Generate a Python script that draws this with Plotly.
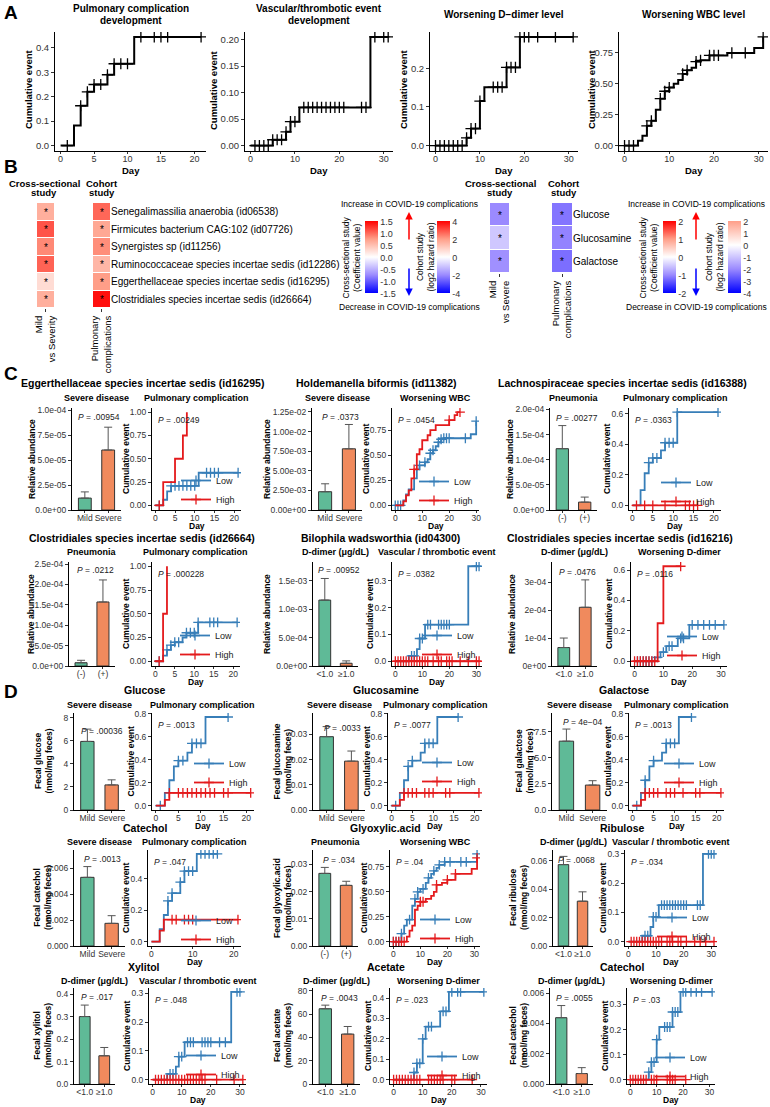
import plotly.graph_objects as go

W, H = 770, 1107
FONT = "Liberation Sans, Arial, Helvetica, sans-serif"
LOW_C = "#377EB8"
HIGH_C = "#E41A1C"
GREEN = "#5FBA97"
ORANGE = "#F08A5D"

# ======================= Panel A data =======================
A1_title = "Pulmonary complication<br>development"
A1_ev_t = [2, 3, 4, 5, 7, 8, 11]
A1_ev_v = [0.082, 0.163, 0.22, 0.25, 0.29, 0.335, 0.445]
A1_cens = [1, 3, 4, 5, 6, 7, 8, 9, 10, 12, 14, 15, 16, 21]
A1_end = 21

A2_title = "Vascular/thrombotic event<br>development"
A2_ev_t = [5, 8, 9, 11, 27]
A2_ev_v = [0.011, 0.026, 0.045, 0.072, 0.205]
A2_cens = [1, 2, 3, 4, 5, 6, 7, 8, 9, 10, 12, 13, 14, 15, 16, 17, 18, 19, 20, 21, 25, 26, 28, 30, 31]
A2_end = 31

A3_title = "Worsening D−dimer level"
A3_ev_t = [7, 8, 10, 11, 16, 19]
A3_ev_v = [0.02, 0.044, 0.115, 0.151, 0.202, 0.281]
A3_cens = [0, 1, 2, 3, 4, 5, 6, 7, 8, 9, 10, 13, 14, 15, 16, 17, 18, 19, 20, 21, 23, 27, 31]
A3_end = 31

A4_title = "Worsening WBC level"
A4_ev_t = [3, 4, 5, 6, 7, 8, 9, 10, 11, 12, 13, 14, 15, 16, 17, 19, 23, 29, 31]
A4_ev_v = [0.04, 0.08, 0.16, 0.20, 0.29, 0.38, 0.44, 0.47, 0.50, 0.53, 0.58, 0.61, 0.63, 0.68, 0.69, 0.73, 0.75, 0.79, 0.88]
A4_cens = [0, 1, 2, 5, 6, 8, 9, 10, 13, 14, 16, 17, 19, 20, 21, 24, 27, 31]
A4_end = 31

# ======================= Panel B data =======================
B_species = ["Senegalimassilia anaerobia (id06538)", "Firmicutes bacterium CAG:102 (id07726)",
             "Synergistes sp (id11256)", "Ruminococcaceae species incertae sedis (id12286)",
             "Eggerthellaceae species incertae sedis (id16295)", "Clostridiales species incertae sedis (id26664)"]
B_species_cross = [0.62, 1.10, 0.85, 1.03, 0.27, 0.62]
B_species_cohort = [2.7, 1.8, 2.2, 1.5, 2.0, 3.8]
B_metab = ["Glucose", "Glucosamine", "Galactose"]
B_metab_cross = [-1.0, -0.48, -0.95]
B_metab_cohort = [-2.3, -2.1, -2.4]
B_sig = "*"
B_left_cols = ["Mild<br>vs Severity", "Pulmonary<br>complications"]
B_right_cols = ["Mild<br>vs Severe", "Pulmonary<br>complications"]
B_cb1_ticks = [1.5, 1.0, 0.5, 0.0, -0.5, -1.0, -1.5]
B_cb1_text = ["1.5", "1.0", "0.5", "0.0", "-0.5", "-1.0", "-1.5"]
B_cb2_ticks = [4, 2, 0, -2, -4]
B_cb2_text = ["4", "2", "0", "-2", "-4"]
B_cb3_ticks = [2, 1, 0, -1, -2]
B_cb3_text = ["2", "1", "0", "-1", "-2"]
B_cb4_ticks = [2, 1, 0, -1, -2, -3, -4]
B_cb4_text = ["2", "1", "0", "-1", "-2", "-3", "-4"]

# ======================= Panel C data =======================
C1_title = "Eggerthellaceae species incertae sedis (id16295)"
C1_subs = ["Severe disease", "Pulmonary complication"]
C1_groups = ["Mild", "Severe"]
C1_mean = [1.19e-5, 6.0e-5]
C1_sem = [0.62e-5, 2.28e-5]
C1_yticks = [0, 2.5e-5, 5.0e-5, 7.5e-5, 1.0e-4]
C1_yticktext = ["0.0e+00", "2.5e-05", "5.0e-05", "7.5e-05", "1.0e-04"]
C1_p = [".00954", ".00249"]
C1_low_t = [2, 3, 4, 11]
C1_low_v = [0.06, 0.15, 0.21, 0.35]
C1_low_c = [1, 4, 5, 6, 7, 8, 9, 10, 13, 14, 15, 16, 21]
C1_low_end = 21
C1_high_t = [2, 5, 7, 8]
C1_high_v = [0.25, 0.50, 0.75, 1.00]
C1_high_c = [1]
C1_high_end = 8

C2_title = "Holdemanella biformis (id11382)"
C2_subs = ["Severe disease", "Worsening WBC"]
C2_groups = ["Mild", "Severe"]
C2_mean = [2.33e-3, 7.8e-3]
C2_sem = [1.01e-3, 3.1e-3]
C2_yticks = [0, 2.5e-3, 5.0e-3, 7.5e-3, 1.0e-2, 1.25e-2]
C2_yticktext = ["0.00e+00", "2.50e-03", "5.00e-03", "7.50e-03", "1.00e-02", "1.25e-02"]
C2_p = [".0373", ".0454"]
C2_low_t = [3, 4, 5, 7, 8, 9, 11, 12, 13, 14, 15, 16, 17, 18, 28, 30]
C2_low_v = [0.05, 0.11, 0.16, 0.27, 0.36, 0.40, 0.43, 0.46, 0.52, 0.55, 0.59, 0.63, 0.66, 0.67, 0.71, 0.84]
C2_low_c = [0, 1, 2, 9, 11, 13, 14, 16, 17, 18, 19, 20, 26, 30]
C2_low_end = 30
C2_high_t = [3, 4, 5, 6, 7, 8, 9, 10, 12, 13, 15, 20, 22, 23]
C2_high_v = [0.04, 0.10, 0.15, 0.27, 0.36, 0.51, 0.56, 0.65, 0.70, 0.75, 0.80, 0.85, 0.90, 0.93]
C2_high_c = [7, 20, 24]
C2_high_end = 24

C3_title = "Lachnospiraceae species incertae sedis (id16388)"
C3_subs = ["Pneumonia", "Pulmonary complication"]
C3_groups = ["(-)", "(+)"]
C3_mean = [1.22e-4, 1.57e-5]
C3_sem = [4.6e-5, 1.0e-5]
C3_yticks = [0, 5e-5, 1e-4, 1.5e-4, 2e-4]
C3_yticktext = ["0.0e+00", "5.0e-05", "1.0e-04", "1.5e-04", "2.0e-04"]
C3_p = [".00277", ".0363"]
C3_low_t = [2, 3, 4, 5, 7, 8, 11]
C3_low_v = [0.10, 0.21, 0.28, 0.31, 0.36, 0.41, 0.61]
C3_low_c = [4, 5, 6, 8, 9, 10, 11, 21]
C3_low_end = 21
C3_high_t = []
C3_high_v = []
C3_high_c = [1, 3, 5, 8, 13, 14, 15, 16]
C3_high_end = 16

C4_title = "Clostridiales species incertae sedis (id26664)"
C4_subs = ["Pneumonia", "Pulmonary complication"]
C4_groups = ["(-)", "(+)"]
C4_mean = [8e-6, 1.57e-4]
C4_sem = [6e-6, 5.4e-5]
C4_yticks = [0, 5e-5, 1e-4, 1.5e-4, 2e-4, 2.5e-4]
C4_yticktext = ["0.0e+00", "5.0e-05", "1.0e-04", "1.5e-04", "2.0e-04", "2.5e-04"]
C4_p = [".0212", ".000228"]
C4_low_t = [2, 3, 4, 5, 7, 8, 11]
C4_low_v = [0.06, 0.12, 0.17, 0.20, 0.25, 0.30, 0.41]
C4_low_c = [1, 3, 4, 5, 6, 8, 9, 10, 11, 14, 15, 16, 21]
C4_low_end = 21
C4_high_t = [2, 3]
C4_high_v = [0.5, 1.0]
C4_high_c = [1]
C4_high_end = 3

C5_title = "Bilophila wadsworthia (id04300)"
C5_subs = ["D-dimer (μg/dL)", "Vascular / thrombotic event"]
C5_groups = ["<1.0", "≥1.0"]
C5_mean = [1.16e-3, 4.8e-5]
C5_sem = [3.8e-4, 4.2e-5]
C5_yticks = [0, 5e-4, 1e-3, 1.5e-3]
C5_yticktext = ["0.0e+00", "5.0e-04", "1.0e-03", "1.5e-03"]
C5_p = [".00952", ".0382"]
C5_low_t = [5, 8, 9, 11, 27]
C5_low_v = [0.02, 0.045, 0.085, 0.137, 0.355]
C5_low_c = [6, 7, 9, 10, 12, 13, 16, 17, 18, 19, 20, 30, 31]
C5_low_end = 31
C5_high_t = []
C5_high_v = []
C5_high_c = [0, 1, 2, 3, 4, 5, 6, 7, 8, 9, 10, 11, 12, 14, 16, 17, 19, 20, 21, 24, 27, 30, 31]
C5_high_end = 31

C6_title = "Clostridiales species incertae sedis (id16216)"
C6_subs = ["D-dimer (μg/dL)", "Worsening D-dimer"]
C6_groups = ["<1.0", "≥1.0"]
C6_mean = [6.6e-5, 2.1e-4]
C6_sem = [3.4e-5, 9.8e-5]
C6_yticks = [0, 1e-4, 2e-4, 3e-4]
C6_yticktext = ["0e+00", "1e-04", "2e-04", "3e-04"]
C6_p = [".0476", ".0116"]
C6_low_t = [7, 9, 11, 15, 19]
C6_low_v = [0.025, 0.06, 0.10, 0.15, 0.24]
C6_low_c = [1, 2, 3, 4, 5, 6, 8, 10, 12, 13, 16, 17, 20, 22, 24, 26, 28, 31]
C6_low_end = 31
C6_high_t = [8, 10]
C6_high_v = [0.25, 0.625]
C6_high_c = [0, 1, 2, 3, 4, 5, 6, 7, 16]
C6_high_end = 16

# ======================= Panel D data =======================
D1_title = "Glucose"
D1_subs = ["Severe disease", "Pulmonary complication"]
D1_groups = ["Mild", "Severe"]
D1_mean = [5.96, 2.18]
D1_sem = [1.07, 0.44]
D1_yticks = [0, 2, 4, 6, 8]
D1_yticktext = ["0", "2", "4", "6", "8"]
D1_ylabel = "Fecal glucose<br>(nmol/mg feces)"
D1_p = [".00036", ".0013"]
D1_low_t = [2, 3, 4, 5, 7, 8, 11]
D1_low_v = [0.11, 0.22, 0.34, 0.39, 0.46, 0.54, 0.77]
D1_low_c = [1, 5, 6, 8, 9, 10, 16]
D1_low_end = 16
D1_high_t = [2, 3]
D1_high_v = [0.05, 0.11]
D1_high_c = [3, 5, 6, 7, 8, 9, 10, 11, 12, 13, 15, 16, 21]
D1_high_end = 21

D2_title = "Glucosamine"
D2_subs = ["Severe disease", "Pulmonary complication"]
D2_groups = ["Mild", "Severe"]
D2_mean = [0.0291, 0.0194]
D2_sem = [0.0040, 0.0040]
D2_yticks = [0, 0.01, 0.02, 0.03]
D2_yticktext = ["0.00", "0.01", "0.02", "0.03"]
D2_ylabel = "Fecal glucosamine<br>(nmol/mg feces)"
D2_p = [".0033", ".0077"]
D2_low_t = [2, 3, 4, 5, 7, 8, 11]
D2_low_v = [0.11, 0.22, 0.34, 0.39, 0.46, 0.54, 0.77]
D2_low_c = [1, 4, 5, 8, 9, 10, 16]
D2_low_end = 16
D2_high_t = [2, 3]
D2_high_v = [0.05, 0.11]
D2_high_c = [3, 4, 5, 6, 8, 9, 10, 13, 14, 21]
D2_high_end = 21

D3_title = "Galactose"
D3_subs = ["Severe disease", "Pulmonary complication"]
D3_groups = ["Mild", "Severe"]
D3_mean = [6.6, 2.39]
D3_sem = [1.16, 0.42]
D3_yticks = [0, 2.5, 5.0, 7.5]
D3_yticktext = ["0.0", "2.5", "5.0", "7.5"]
D3_ylabel = "Fecal galactose<br>(nmol/mg feces)"
D3_p = ["4e−04", ".0013"]
D3_low_t = [2, 3, 4, 5, 7, 8, 11]
D3_low_v = [0.11, 0.22, 0.34, 0.39, 0.46, 0.54, 0.77]
D3_low_c = [1, 3, 5, 8, 9, 10, 14]
D3_low_end = 14
D3_high_t = [2, 3]
D3_high_v = [0.05, 0.11]
D3_high_c = [3, 4, 5, 6, 8, 9, 10, 12, 15, 16, 21]
D3_high_end = 21

D4_title = "Catechol"
D4_subs = ["Severe disease", "Pulmonary complication"]
D4_groups = ["Mild", "Severe"]
D4_mean = [0.0053, 0.00175]
D4_sem = [0.00083, 0.00059]
D4_yticks = [0, 0.002, 0.004, 0.006]
D4_yticktext = ["0.000", "0.002", "0.004", "0.006"]
D4_ylabel = "Fecal catechol<br>(nmol/mg feces)"
D4_p = [".0013", ".047"]
D4_low_t = [2, 3, 4, 5, 7, 8, 11]
D4_low_v = [0.08, 0.17, 0.26, 0.31, 0.38, 0.45, 0.56]
D4_low_c = [4, 5, 7, 8, 9, 10, 12, 13, 14, 15, 16]
D4_low_end = 16
D4_high_t = [2, 3]
D4_high_v = [0.07, 0.14]
D4_high_c = [5, 6, 8, 9, 10, 21]
D4_high_end = 21

D5_title = "Glyoxylic.acid"
D5_subs = ["Pneumonia", "Worsening WBC"]
D5_groups = ["(-)", "(+)"]
D5_mean = [0.0267, 0.0223]
D5_sem = [0.0022, 0.0015]
D5_yticks = [0, 0.01, 0.02, 0.03]
D5_yticktext = ["0.00", "0.01", "0.02", "0.03"]
D5_ylabel = "Fecal glyoxylic.acid<br>(nmol/mg feces)"
D5_p = [".034", ".04"]
D5_low_t = [3, 4, 5, 7, 8, 9, 10, 12, 13, 14, 15, 16, 17, 19, 31]
D5_low_v = [0.08, 0.16, 0.22, 0.36, 0.43, 0.50, 0.53, 0.59, 0.64, 0.68, 0.71, 0.74, 0.77, 0.80, 0.88]
D5_low_c = [0, 1, 2, 3, 6, 8, 9, 11, 13, 15, 17, 19, 21, 25, 27, 31]
D5_low_end = 31
D5_high_t = [5, 6, 7, 8, 9, 10, 12, 14, 15, 16, 18, 20, 23, 29, 31]
D5_high_v = [0.05, 0.11, 0.16, 0.32, 0.36, 0.40, 0.43, 0.46, 0.50, 0.57, 0.59, 0.62, 0.68, 0.73, 0.84]
D5_high_c = [0, 1, 2, 3, 4, 10, 11, 16, 20, 23, 31]
D5_high_end = 31

D6_title = "Ribulose"
D6_subs = ["D-dimer (μg/dL)", "Vascular / thrombotic event"]
D6_groups = ["<1.0", "≥1.0"]
D6_mean = [0.0574, 0.0316]
D6_sem = [0.0058, 0.0066]
D6_yticks = [0, 0.02, 0.04, 0.06]
D6_yticktext = ["0.00", "0.02", "0.04", "0.06"]
D6_ylabel = "Fecal ribulose<br>(nmol/mg feces)"
D6_p = [".0068", ".034"]
D6_low_t = [5, 8, 9, 11, 27]
D6_low_v = [0.02, 0.05, 0.085, 0.125, 0.30]
D6_low_c = [6, 7, 9, 10, 12, 13, 14, 15, 16, 17, 18, 19, 20, 21, 25, 26, 29, 30, 31]
D6_low_end = 31
D6_high_t = []
D6_high_v = []
D6_high_c = [1, 2, 3, 4, 5, 6, 7, 8, 9, 10, 11, 12, 14, 15, 16, 18, 19, 21, 24, 26, 28, 31]
D6_high_end = 31

D7_title = "Xylitol"
D7_subs = ["D-dimer (μg/dL)", "Vascular / thrombotic event"]
D7_groups = ["<1.0", "≥1.0"]
D7_mean = [0.30, 0.1255]
D7_sem = [0.051, 0.037]
D7_yticks = [0, 0.1, 0.2, 0.3, 0.4]
D7_yticktext = ["0.0", "0.1", "0.2", "0.3", "0.4"]
D7_ylabel = "Fecal xylitol<br>(nmol/mg feces)"
D7_p = [".017", ".048"]
D7_low_t = [5, 8, 9, 11, 27]
D7_low_v = [0.02, 0.045, 0.08, 0.13, 0.305]
D7_low_c = [6, 7, 9, 10, 12, 13, 14, 17, 18, 19, 20, 23, 25, 29, 30]
D7_low_end = 30
D7_high_t = []
D7_high_v = []
D7_high_c = [1, 2, 3, 4, 5, 6, 7, 8, 9, 10, 11, 12, 13, 14, 15, 16, 17, 18, 22, 28, 31]
D7_high_end = 31

D8_title = "Acetate"
D8_subs = ["D-dimer (μg/dL)", "Worsening D-dimer"]
D8_groups = ["<1.0", "≥1.0"]
D8_mean = [64.5, 42.8]
D8_sem = [3.1, 6.5]
D8_yticks = [0, 20, 40, 60, 80]
D8_yticktext = ["0", "20", "40", "60", "80"]
D8_ylabel = "Fecal acetate<br>(nmol/mg feces)"
D8_p = [".0043", ".023"]
D8_low_t = [7, 8, 10, 11, 16, 19]
D8_low_v = [0.035, 0.08, 0.20, 0.26, 0.335, 0.43]
D8_low_c = [7, 8, 9, 10, 12, 13, 17, 18, 20, 22, 23, 31]
D8_low_end = 31
D8_high_t = []
D8_high_v = []
D8_high_c = [0, 1, 2, 3, 4, 5, 6, 7, 8, 9, 12, 13, 14, 15, 16, 17, 20, 21, 27]
D8_high_end = 27

D9_title = "Catechol"
D9_subs = ["D-dimer (μg/dL)", "Worsening D-dimer"]
D9_groups = ["<1.0", "≥1.0"]
D9_mean = [0.00438, 0.00069]
D9_sem = [0.0008, 0.00039]
D9_yticks = [0, 0.002, 0.004, 0.006]
D9_yticktext = ["0.000", "0.002", "0.004", "0.006"]
D9_ylabel = "Fecal catechol<br>(nmol/mg feces)"
D9_p = [".0055", ".03"]
D9_low_t = [7, 8, 10, 11, 16, 19]
D9_low_v = [0.03, 0.07, 0.16, 0.21, 0.27, 0.35]
D9_low_c = [7, 8, 9, 10, 13, 14, 15, 16, 17, 18, 20, 21, 23, 25, 27, 31]
D9_low_end = 31
D9_high_t = []
D9_high_v = []
D9_high_c = [0, 1, 2, 3, 4, 5, 6, 8, 9, 10, 14, 15, 16, 17, 21]
D9_high_end = 21

# ======================= helpers =======================
fig = go.Figure()
L = {}
anns = []
naxes = [0]
nleg = [1]


def X(px):
    return px / W


def Y(py):
    return 1 - py / H


def text(s, x, y, size, bold=False, xanchor="center", yanchor="middle", color="black", angle=0):
    if bold:
        s = "<b>" + s + "</b>"
    anns.append(dict(text=s, x=X(x), y=Y(y), xref="paper", yref="paper", showarrow=False,
                     xanchor=xanchor, yanchor=yanchor, textangle=angle,
                     font=dict(size=size, color=color, family=FONT)))


def new_axes(box):
    naxes[0] += 1
    n = naxes[0]
    s = "" if n == 1 else str(n)
    x0, y0, x1, y1 = box
    L["xaxis" + s] = dict(domain=[X(x0), X(x1)], anchor="y" + s, automargin=False)
    L["yaxis" + s] = dict(domain=[Y(y1), Y(y0)], anchor="x" + s, automargin=False)
    return s


def style(d, size, tl=3, so=0):
    d.update(showline=True, linecolor="black", linewidth=1, ticks="outside", ticklen=tl,
             tickwidth=1, tickcolor="#333", showgrid=False, zeroline=False, tickangle=0,
             ticklabelstandoff=so, tickfont=dict(size=size, color="#333", family=FONT))


def km_points(ev_t, ev_v, cens, end):
    def S(t):
        v = 0.0
        for et, evv in zip(ev_t, ev_v):
            if et <= t:
                v = evv
        return v
    items = [(0.0, -1, 0.0)]
    items += [(t, 0, v) for t, v in zip(ev_t, ev_v)]
    items += [(t, 1, S(t)) for t in cens]
    if end not in cens:
        items.append((end, 2, S(end)))
    items.sort(key=lambda r: (r[0], r[1]))
    xs = [r[0] for r in items]
    ys = [r[2] for r in items]
    sel = [i for i, r in enumerate(items) if r[1] == 1]
    return xs, ys, sel


def km_trace(s, ev_t, ev_v, cens, end, color, lw, csize, name=None, legend=None):
    xs, ys, sel = km_points(ev_t, ev_v, cens, end)
    fig.add_trace(go.Scatter(
        x=xs, y=ys, mode="lines+markers", name=name,
        line=dict(color=color, width=lw, shape="hv"),
        marker=dict(symbol="cross-thin", size=csize, color=color, line=dict(color=color, width=1.3)),
        selectedpoints=sel, selected=dict(marker=dict(opacity=1)), unselected=dict(marker=dict(opacity=0)),
        xaxis="x" + s, yaxis="y" + s, showlegend=legend is not None,
        legend=legend if legend else "legend", hoverinfo="skip"))


def km_ranges(s, groups, xdtick, ydtick, yfmt):
    tmax = max(g[3] for g in groups)
    vmax = max([max(g[1]) if g[1] else 0 for g in groups])
    L["xaxis" + s].update(range=[-0.04 * tmax, tmax * 1.035], dtick=xdtick, tick0=0)
    L["yaxis" + s].update(range=[-0.05 * vmax, vmax * 1.045], dtick=ydtick, tick0=0, tickformat=yfmt)


# ======================= Panel A =======================
A_sets = [
    (A1_title, A1_ev_t, A1_ev_v, A1_cens, A1_end, (55, 32, 206, 151), 28, 5, 0.1, ".1f", 8),
    (A2_title, A2_ev_t, A2_ev_v, A2_cens, A2_end, (245, 32, 393, 151), 213, 10, 0.05, ".2f", 8),
    (A3_title, A3_ev_t, A3_ev_v, A3_cens, A3_end, (430, 32, 578, 151), 403, 10, 0.1, ".1f", 14),
    (A4_title, A4_ev_t, A4_ev_v, A4_cens, A4_end, (619, 32, 768, 151), 591, 10, 0.25, ".2f", 14),
]
for title, et, ev, ce, en, box, ylx, xd, yd, yf, ty in A_sets:
    s = new_axes(box)
    style(L["xaxis" + s], 9, tl=2, so=-3)
    style(L["yaxis" + s], 9.5)
    km_trace(s, et, ev, ce, en, "black", 2, 8)
    km_ranges(s, [(et, ev, ce, en)], xd, yd, yf)
    cx = (box[0] + box[2]) / 2
    if "<br>" in title:
        t1, t2 = title.split("<br>")
        text(t1, cx, 8, 10, bold=True)
        text(t2, cx, 21, 10, bold=True)
    else:
        text(title, cx, ty, 10, bold=True)
    text("Cumulative event", ylx, 90, 9.5, bold=True, angle=-90)
    text("Day", cx, 170, 9.5, bold=True)

# ======================= Panel B =======================
def scale_sym():
    return [[0, "#0000FF"], [0.25, "#9B8AFF"], [0.5, "#FFFFFF"], [0.75, "#FF9E88"], [1, "#FF0000"]]


def scale_asym():
    return [[0, "#0000FF"], [1 / 3, "#9B8AFF"], [2 / 3, "#FFFFFF"], [1, "#FF9E88"]]


def add_heat(box, xlab, ylabels, vals, cscale, zmin, zmax, cbx, ticks, ticktext, show_y):
    s = new_axes(box)
    fig.add_trace(go.Heatmap(
        x=[xlab], y=ylabels, z=[[v] for v in vals], text=[[B_sig] for _ in vals],
        texttemplate="%{text}", textfont=dict(size=10, color="black", family=FONT),
        colorscale=cscale, zmin=zmin, zmax=zmax, ygap=1, xgap=0,
        colorbar=dict(x=X(cbx), xanchor="left", y=Y(257.5), yanchor="middle", len=72, lenmode="pixels",
                      thickness=13, thicknessmode="pixels", xpad=0, ypad=0, outlinewidth=0,
                      tickvals=ticks, ticktext=ticktext, ticks="",
                      tickfont=dict(size=9, color="#333", family=FONT)),
        xaxis="x" + s, yaxis="y" + s, hoverinfo="skip"))
    L["xaxis" + s].update(type="category", tickangle=-90, ticks="outside", ticklen=3, tickcolor="#333",
                          showline=False, showgrid=False, zeroline=False,
                          tickfont=dict(size=9.5, color="black", family=FONT))
    L["yaxis" + s].update(type="category", autorange="reversed", showline=False, showgrid=False,
                          zeroline=False, ticks="", showticklabels=show_y, side="right",
                          tickfont=dict(size=10, color="black", family=FONT))


add_heat((37, 203, 54, 308), B_left_cols[0], B_species, B_species_cross, scale_sym(), -1.5, 1.5, 365,
         B_cb1_ticks, B_cb1_text, False)
add_heat((93, 203, 110, 308), B_left_cols[1], B_species, B_species_cohort, scale_sym(), -4, 4, 437,
         B_cb2_ticks, B_cb2_text, True)
add_heat((490, 203, 509, 273), B_right_cols[0], B_metab, B_metab_cross, scale_sym(), -2, 2, 663,
         B_cb3_ticks, B_cb3_text, False)
add_heat((552, 203, 572, 273), B_right_cols[1], B_metab, B_metab_cohort, scale_asym(), -4, 2, 728,
         B_cb4_ticks, B_cb4_text, True)

for cx, lab in [(44, "Cross-sectional"), (102, "Cohort"), (500, "Cross-sectional"), (564, "Cohort")]:
    text(lab, cx, 183, 9.5, bold=True)
    text("study", cx, 193, 9.5, bold=True)

for ax_x, t1x, t2x in [(409, 351, 425), (696, 648, 714)]:
    text("Increase in COVID-19 complications", ax_x, 204, 8.5)
    text("Decrease in COVID-19 complications", ax_x, 307, 8.5)
    anns.append(dict(x=X(ax_x), y=Y(212), xref="paper", yref="paper", ax=0, ay=29, text="",
                     showarrow=True, arrowhead=2, arrowsize=1, arrowwidth=1.5, arrowcolor="#FF0000"))
    anns.append(dict(x=X(ax_x), y=Y(296), xref="paper", yref="paper", ax=0, ay=-29, text="",
                     showarrow=True, arrowhead=2, arrowsize=1, arrowwidth=1.5, arrowcolor="#0000FF"))
    text("Cross-sectional study<br>(Coefficient value)", t1x, 257.5, 8.5, angle=-90)
    text("Cohort study<br>(log2 hazard ratio)", t2x, 257.5, 8.5, angle=-90)

# ======================= Panels C & D =======================
CD_panels = [
    # C row 1
    dict(title=C1_title, subs=C1_subs, groups=C1_groups, mean=C1_mean, sem=C1_sem, yt=C1_yticks, ytt=C1_yticktext,
         ylab="Relative abundance", p=C1_p, low=(C1_low_t, C1_low_v, C1_low_c, C1_low_end),
         high=(C1_high_t, C1_high_v, C1_high_c, C1_high_end),
         bar=(72, 408, 121, 510), km=(152, 408, 241, 510), ymax=1.02e-4, tx=142, ty=383, sy=398,
         xd=5, yd=0.25, yf=".2f", ylx=-40, poff=9, lgy=4),
    dict(title=C2_title, subs=C2_subs, groups=C2_groups, mean=C2_mean, sem=C2_sem, yt=C2_yticks, ytt=C2_yticktext,
         ylab="Relative abundance", p=C2_p, low=(C2_low_t, C2_low_v, C2_low_c, C2_low_end),
         high=(C2_high_t, C2_high_v, C2_high_c, C2_high_end),
         bar=(312, 408, 362, 510), km=(392, 408, 479, 510), ymax=1.3e-2, tx=376, ty=383, sy=398,
         xd=10, yd=0.25, yf=".2f", ylx=-45, poff=9, lgy=5),
    dict(title=C3_title, subs=C3_subs, groups=C3_groups, mean=C3_mean, sem=C3_sem, yt=C3_yticks, ytt=C3_yticktext,
         ylab="Relative abundance", p=C3_p, low=(C3_low_t, C3_low_v, C3_low_c, C3_low_end),
         high=(C3_high_t, C3_high_v, C3_high_c, C3_high_end),
         bar=(550, 408, 597, 510), km=(629, 408, 721, 510), ymax=2.03e-4, tx=622, ty=383, sy=398,
         xd=5, yd=0.2, yf=".1f", ylx=-40, poff=10, lgy=6),
    # C row 2
    dict(title=C4_title, subs=C4_subs, groups=C4_groups, mean=C4_mean, sem=C4_sem, yt=C4_yticks, ytt=C4_yticktext,
         ylab="Relative abundance", p=C4_p, low=(C4_low_t, C4_low_v, C4_low_c, C4_low_end),
         high=(C4_high_t, C4_high_v, C4_high_c, C4_high_end),
         bar=(69, 562, 115, 666), km=(152, 562, 240, 666), ymax=2.55e-4, tx=142, ty=538, sy=552,
         xd=5, yd=0.25, yf=".2f", ylx=-38, poff=8, lgy=3),
    dict(title=C5_title, subs=C5_subs, groups=C5_groups, mean=C5_mean, sem=C5_sem, yt=C5_yticks, ytt=C5_yticktext,
         ylab="Relative abundance", p=C5_p, low=(C5_low_t, C5_low_v, C5_low_c, C5_low_end),
         high=(C5_high_t, C5_high_v, C5_high_c, C5_high_end),
         bar=(313, 562, 358, 666), km=(392, 562, 482, 666), ymax=1.83e-3, tx=380, ty=538, sy=552,
         xd=10, yd=0.1, yf=".1f", ylx=-46, poff=8, lgy=3),
    dict(title=C6_title, subs=C6_subs, groups=C6_groups, mean=C6_mean, sem=C6_sem, yt=C6_yticks, ytt=C6_yticktext,
         ylab="Relative abundance", p=C6_p, low=(C6_low_t, C6_low_v, C6_low_c, C6_low_end),
         high=(C6_high_t, C6_high_v, C6_high_c, C6_high_end),
         bar=(552, 562, 597, 666), km=(631, 562, 727, 666), ymax=3.72e-4, tx=620, ty=538, sy=552,
         xd=10, yd=0.2, yf=".1f", ylx=-40, poff=10, lgy=4),
    # D row 1
    dict(title=D1_title, subs=D1_subs, groups=D1_groups, mean=D1_mean, sem=D1_sem, yt=D1_yticks, ytt=D1_yticktext,
         ylab=D1_ylabel, p=D1_p, low=(D1_low_t, D1_low_v, D1_low_c, D1_low_end),
         high=(D1_high_t, D1_high_v, D1_high_c, D1_high_end),
         bar=(74, 713, 125, 810), km=(152, 713, 254, 810), ymax=8.43, tx=145, ty=690, sy=705,
         xd=5, yd=0.2, yf=".1f", ylx=-31, poff=18, lgy=-13),
    dict(title=D2_title, subs=D2_subs, groups=D2_groups, mean=D2_mean, sem=D2_sem, yt=D2_yticks, ytt=D2_yticktext,
         ylab=D2_ylabel, p=D2_p, low=(D2_low_t, D2_low_v, D2_low_c, D2_low_end),
         high=(D2_high_t, D2_high_v, D2_high_c, D2_high_end),
         bar=(313, 713, 365, 810), km=(388, 713, 482, 810), ymax=0.0385, tx=386, ty=690, sy=705,
         xd=5, yd=0.2, yf=".1f", ylx=-31, poff=15, lgy=-14),
    dict(title=D3_title, subs=D3_subs, groups=D3_groups, mean=D3_mean, sem=D3_sem, yt=D3_yticks, ytt=D3_yticktext,
         ylab=D3_ylabel, p=D3_p, low=(D3_low_t, D3_low_v, D3_low_c, D3_low_end),
         high=(D3_high_t, D3_high_v, D3_high_c, D3_high_end),
         bar=(552, 713, 607, 810), km=(629, 713, 724, 810), ymax=9.3, tx=624, ty=690, sy=705,
         xd=5, yd=0.2, yf=".1f", ylx=-28, poff=9, lgy=-13),
    # D row 2
    dict(title=D4_title, subs=D4_subs, groups=D4_groups, mean=D4_mean, sem=D4_sem, yt=D4_yticks, ytt=D4_yticktext,
         ylab=D4_ylabel, p=D4_p, low=(D4_low_t, D4_low_v, D4_low_c, D4_low_end),
         high=(D4_high_t, D4_high_v, D4_high_c, D4_high_end),
         bar=(74, 850, 125, 946), km=(148, 850, 241, 946), ymax=0.00741, tx=145, ty=828, sy=842,
         xd=10, yd=0.2, yf=".1f", ylx=-32, poff=9, lgy=8),
    dict(title=D5_title, subs=D5_subs, groups=D5_groups, mean=D5_mean, sem=D5_sem, yt=D5_yticks, ytt=D5_yticktext,
         ylab=D5_ylabel, p=D5_p, low=(D5_low_t, D5_low_v, D5_low_c, D5_low_end),
         high=(D5_high_t, D5_high_v, D5_high_c, D5_high_end),
         bar=(313, 850, 358, 946), km=(390, 850, 480, 946), ymax=0.0353, tx=386, ty=828, sy=842,
         xd=10, yd=0.25, yf=".2f", ylx=-31, poff=10, lgy=7),
    dict(title=D6_title, subs=D6_subs, groups=D6_groups, mean=D6_mean, sem=D6_sem, yt=D6_yticks, ytt=D6_yticktext,
         ylab=D6_ylabel, p=D6_p, low=(D6_low_t, D6_low_v, D6_low_c, D6_low_end),
         high=(D6_high_t, D6_high_v, D6_high_c, D6_high_end),
         bar=(553, 850, 593, 946), km=(625, 850, 717, 946), ymax=0.0677, tx=622, ty=828, sy=842,
         xd=10, yd=0.1, yf=".1f", ylx=-35, poff=10, lgy=5),
    # D row 3
    dict(title=D7_title, subs=D7_subs, groups=D7_groups, mean=D7_mean, sem=D7_sem, yt=D7_yticks, ytt=D7_yticktext,
         ylab=D7_ylabel, p=D7_p, low=(D7_low_t, D7_low_v, D7_low_c, D7_low_end),
         high=(D7_high_t, D7_high_v, D7_high_c, D7_high_end),
         bar=(74, 988, 115, 1084), km=(149, 988, 246, 1084), ymax=0.427, tx=144, ty=967, sy=981,
         xd=10, yd=0.1, yf=".1f", ylx=-32, poff=9, lgy=5),
    dict(title=D8_title, subs=D8_subs, groups=D8_groups, mean=D8_mean, sem=D8_sem, yt=D8_yticks, ytt=D8_yticktext,
         ylab=D8_ylabel, p=D8_p, low=(D8_low_t, D8_low_v, D8_low_c, D8_low_end),
         high=(D8_high_t, D8_high_v, D8_high_c, D8_high_end),
         bar=(313, 988, 360, 1084), km=(390, 988, 487, 1084), ymax=82.3, tx=386, ty=967, sy=981,
         xd=10, yd=0.1, yf=".1f", ylx=-31, poff=10, lgy=6),
    dict(title=D9_title, subs=D9_subs, groups=D9_groups, mean=D9_mean, sem=D9_sem, yt=D9_yticks, ytt=D9_yticktext,
         ylab=D9_ylabel, p=D9_p, low=(D9_low_t, D9_low_v, D9_low_c, D9_low_end),
         high=(D9_high_t, D9_high_v, D9_high_c, D9_high_end),
         bar=(550, 988, 593, 1084), km=(627, 988, 715, 1084), ymax=0.00634, tx=622, ty=967, sy=981,
         xd=10, yd=0.1, yf=".1f", ylx=-32, poff=10, lgy=7),
]

TS = 8.5
for P in CD_panels:
    # ---- bar chart ----
    b = P["bar"]
    s = new_axes(b)
    style(L["xaxis" + s], TS, tl=2, so=-2)
    style(L["yaxis" + s], TS)
    fig.add_trace(go.Bar(
        x=[1, 2], y=P["mean"], width=0.55,
        marker=dict(color=[GREEN, ORANGE], line=dict(color="#333", width=1)),
        error_y=dict(type="data", symmetric=False, array=P["sem"], arrayminus=[0, 0],
                     color="#555", thickness=1, width=4),
        xaxis="x" + s, yaxis="y" + s, showlegend=False, hoverinfo="skip"))
    L["xaxis" + s].update(range=[0.45, 2.55], tickvals=[1, 2], ticktext=P["groups"])
    L["yaxis" + s].update(range=[0, P["ymax"]], tickvals=P["yt"], ticktext=P["ytt"])
    bcx = (b[0] + b[2]) / 2
    text(P["subs"][0], bcx, P["sy"], 9, bold=True)
    text("<i>P</i> = " + P["p"][0], bcx + 3, b[1] + P["poff"], 8.5, color="#222")
    text(P["ylab"], b[0] + P["ylx"], (b[1] + b[3]) / 2, 8.5, bold=True, angle=-90)

    # ---- KM ----
    k = P["km"]
    s = new_axes(k)
    style(L["xaxis" + s], TS, tl=2, so=-2)
    style(L["yaxis" + s], TS)
    nleg[0] += 1
    lg = "legend%d" % nleg[0]
    lt, lv, lc, le = P["low"]
    ht, hv, hc, he = P["high"]
    km_trace(s, lt, lv, lc, le, LOW_C, 1.8, 7, name="Low", legend=lg)
    km_trace(s, ht, hv, hc, he, HIGH_C, 1.8, 7, name="High", legend=lg)
    km_ranges(s, [P["low"], P["high"]], P["xd"], P["yd"], P["yf"])
    L[lg] = dict(x=X(k[2] - 1), y=Y(k[3] + P["lgy"]), xanchor="right", yanchor="bottom",
                 bgcolor="rgba(0,0,0,0)", borderwidth=0, tracegroupgap=0, itemwidth=30,
                 font=dict(size=9, color="#222", family=FONT), traceorder="normal")
    kcx = (k[0] + k[2]) / 2
    text(P["subs"][1], kcx, P["sy"], 9, bold=True)
    text("<i>P</i> = " + P["p"][1], k[0] + 4, k[1] + 12, 8.5, xanchor="left", color="#222")
    ylo = 26 if P["yf"] == ".2f" else 22
    text("Cumulative event", k[0] - ylo, (k[1] + k[3]) / 2, 8.5, bold=True, angle=-90)
    text("Day", kcx, k[3] + 16, 8.5, bold=True)

    text(P["title"], P["tx"], P["ty"], 10.5, bold=True)

# ======================= panel letters =======================
for lab, yy in [("A", 0), ("B", 154), ("C", 361), ("D", 679)]:
    text(lab, 2, yy, 19, bold=True, xanchor="left", yanchor="top")

fig.update_layout(
    width=W, height=H, margin=dict(l=0, r=0, t=0, b=0, pad=0),
    paper_bgcolor="white", plot_bgcolor="white", template="none",
    font=dict(family=FONT, color="black"), showlegend=True,
    annotations=anns, **L)

fig.write_html("out.html", config={"displayModeBar": False, "responsive": False},
               post_script="document.body.style.margin='0px';document.body.style.padding='0px';")
